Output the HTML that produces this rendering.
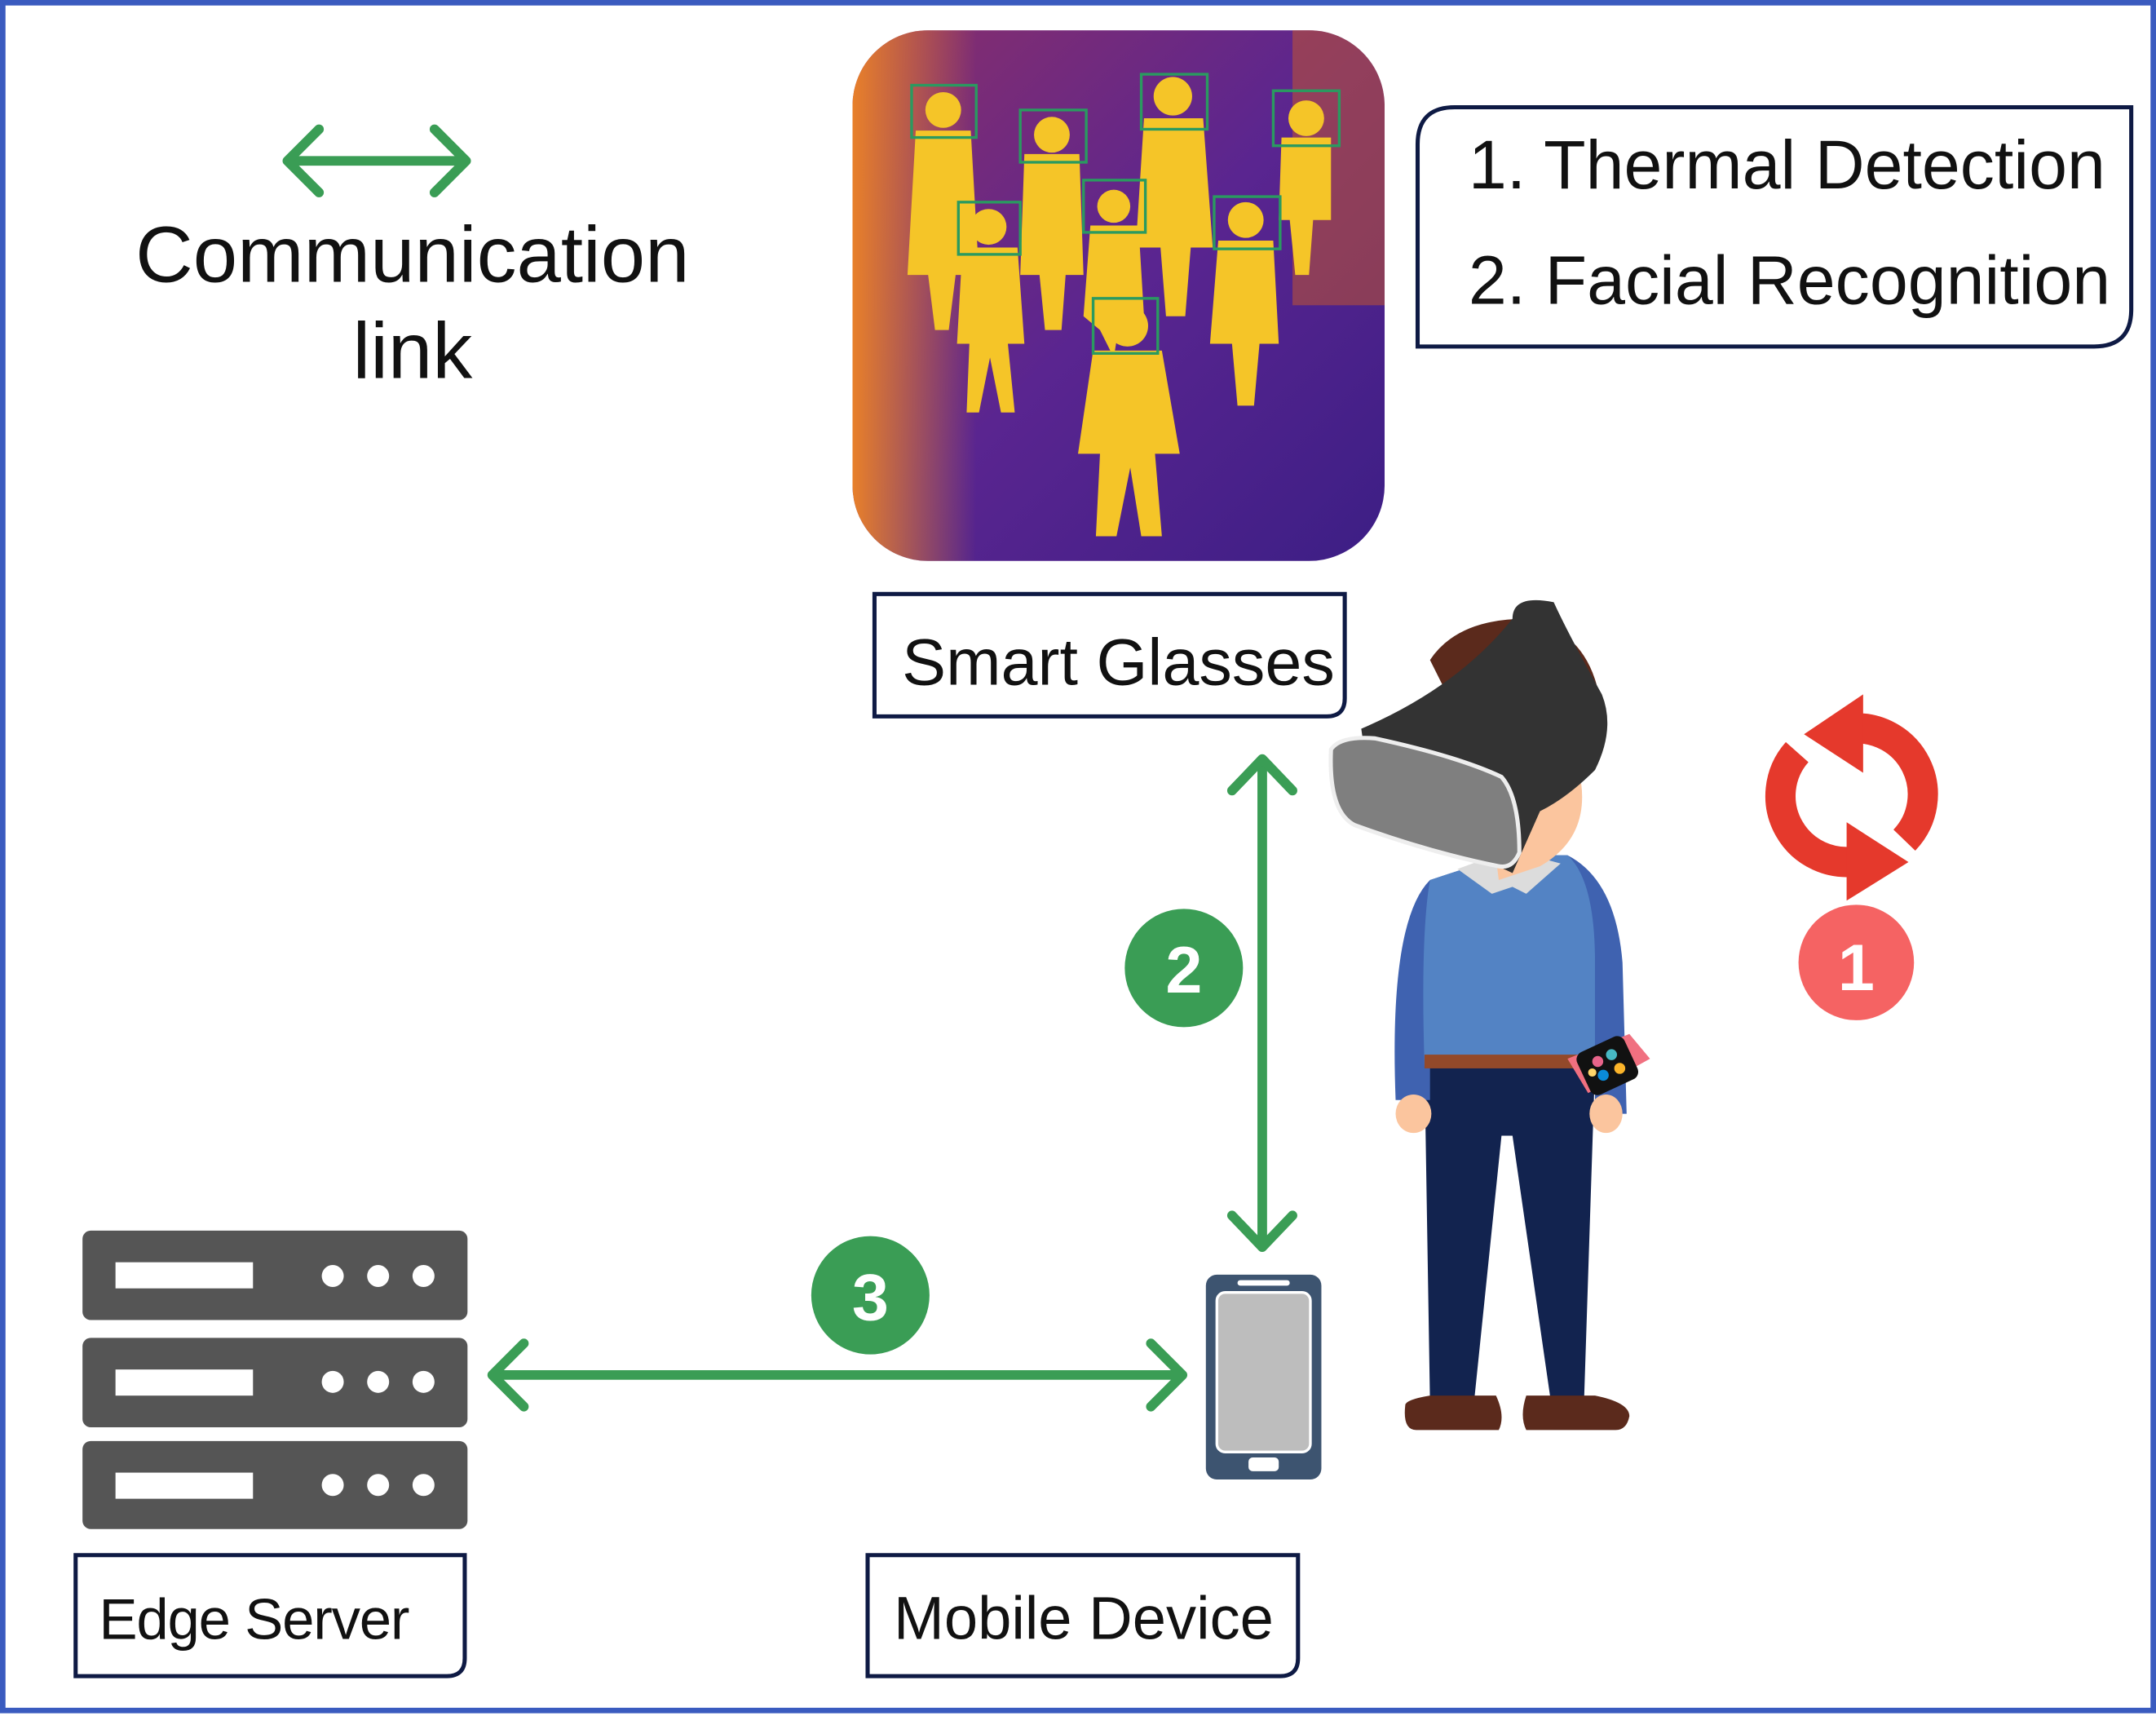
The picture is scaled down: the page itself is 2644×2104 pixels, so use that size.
<!DOCTYPE html>
<html><head><meta charset="utf-8"><style>
html,body{margin:0;padding:0;background:#fff;}
svg{display:block;}
text{font-family:"Liberation Sans","DejaVu Sans",sans-serif;}
</style></head><body>
<svg width="2644" height="2104" viewBox="0 0 1568 1248" preserveAspectRatio="none" xmlns="http://www.w3.org/2000/svg">
<defs>
<linearGradient id="th" x1="0" y1="0" x2="1" y2="1">
<stop offset="0" stop-color="#8a2f6a"/><stop offset="0.5" stop-color="#5a2590"/><stop offset="1" stop-color="#3c1e85"/>
</linearGradient>
<linearGradient id="lf" x1="0" y1="0" x2="1" y2="0">
<stop offset="0" stop-color="#e8802a"/><stop offset="1" stop-color="#e8802a" stop-opacity="0"/>
</linearGradient>
<clipPath id="cp"><rect x="620" y="22" width="387" height="386" rx="55"/></clipPath>
</defs>
<rect x="2" y="2" width="1564" height="1242" fill="#fff" stroke="#3a5bbf" stroke-width="4"/>

<g stroke="#3a9d55" stroke-width="7" fill="none" stroke-linecap="round" stroke-linejoin="round">
<line x1="210" y1="117" x2="338" y2="117"/>
<polyline points="232,94 209,117 232,140"/>
<polyline points="316,94 339,117 316,140"/>
</g>
<text x="300" y="205" font-size="58" text-anchor="middle" fill="#111">Communication</text>
<text x="300" y="275" font-size="58" text-anchor="middle" fill="#111">link</text>

<g clip-path="url(#cp)">
<rect x="620" y="22" width="387" height="386" fill="url(#th)"/>
<rect x="620" y="22" width="90" height="386" fill="url(#lf)"/>
<rect x="940" y="22" width="67" height="200" fill="#d8601c" opacity="0.45"/>
<g fill="#f5c528">
<circle cx="686" cy="80" r="13"/><path d="M666,95 H706 L712,200 L695,200 L690,240 L680,240 L675,200 L660,200 Z"/>
<circle cx="765" cy="98" r="13"/><path d="M745,112 H785 L788,200 L775,200 L772,240 L760,240 L756,200 L742,200 Z"/>
<circle cx="853" cy="70" r="14"/><path d="M832,86 H875 L882,180 L866,180 L862,230 L848,230 L844,180 L826,180 Z"/>
<circle cx="950" cy="86" r="13"/><path d="M932,100 H968 L968,160 L955,160 L952,200 L942,200 L938,160 L930,160 Z"/>
<circle cx="719" cy="165" r="13"/><path d="M700,180 H740 L745,250 L733,250 L738,300 L728,300 L720,260 L712,300 L703,300 L705,250 L696,250 Z"/>
<circle cx="810" cy="150" r="12"/><path d="M793,164 H828 L832,230 L815,230 L810,260 L800,240 L788,230 Z"/>
<circle cx="906" cy="160" r="13"/><path d="M886,175 H926 L930,250 L916,250 L912,295 L900,295 L896,250 L880,250 Z"/>
<circle cx="820" cy="237" r="15"/><path d="M795,255 H845 L858,330 L840,330 L845,390 L830,390 L822,340 L812,390 L797,390 L800,330 L784,330 Z"/>
</g>
<g fill="none" stroke="#2a9a60" stroke-width="2">
<rect x="663" y="62" width="47" height="38"/><rect x="742" y="80" width="48" height="38"/>
<rect x="830" y="54" width="48" height="40"/><rect x="926" y="66" width="48" height="40"/>
<rect x="697" y="147" width="45" height="38"/><rect x="788" y="131" width="45" height="38"/>
<rect x="883" y="143" width="48" height="38"/><rect x="795" y="217" width="47" height="40"/>
</g>
</g>

<path d="M1058,78 H1550 V225 Q1550,252 1523,252 H1031 V105 Q1031,78 1058,78 Z" fill="#fff" stroke="#0e1a44" stroke-width="3"/>
<text x="1068" y="137" font-size="50" fill="#111">1. Thermal Detection</text>
<text x="1068" y="221" font-size="50" fill="#111">2. Facial Recognition</text>

<path d="M636,432 H978 V508 Q978,521 965,521 H636 Z" fill="#fff" stroke="#0e1a44" stroke-width="3"/>
<text x="656" y="498" font-size="48" fill="#111">Smart Glasses</text>

<g stroke="#3a9d55" stroke-width="7" fill="none" stroke-linecap="round" stroke-linejoin="round">
<line x1="918" y1="553" x2="918" y2="905"/>
<polyline points="896,575 918,552 940,575"/>
<polyline points="896,884 918,907 940,884"/>
<line x1="359" y1="1000" x2="859" y2="1000"/>
<polyline points="381,977 358,1000 381,1023"/>
<polyline points="837,977 860,1000 837,1023"/>
</g>
<circle cx="861" cy="704" r="43" fill="#3a9d55"/>
<text x="861" y="722" font-size="48" font-weight="bold" fill="#fff" text-anchor="middle">2</text>
<circle cx="633" cy="942" r="43" fill="#3a9d55"/>
<text x="633" y="960" font-size="48" font-weight="bold" fill="#fff" text-anchor="middle">3</text>

<g fill="#555">
<rect x="60" y="895" width="280" height="65" rx="6"/>
<rect x="60" y="973" width="280" height="65" rx="6"/>
<rect x="60" y="1048" width="280" height="64" rx="6"/>
</g>
<g fill="#fff">
<rect x="84" y="918" width="100" height="19"/><circle cx="242" cy="928" r="8"/><circle cx="275" cy="928" r="8"/><circle cx="308" cy="928" r="8"/>
<rect x="84" y="996" width="100" height="19"/><circle cx="242" cy="1005" r="8"/><circle cx="275" cy="1005" r="8"/><circle cx="308" cy="1005" r="8"/>
<rect x="84" y="1071" width="100" height="19"/><circle cx="242" cy="1080" r="8"/><circle cx="275" cy="1080" r="8"/><circle cx="308" cy="1080" r="8"/>
</g>
<path d="M55,1131 H338 V1206 Q338,1219 325,1219 H55 Z" fill="#fff" stroke="#0e1a44" stroke-width="3"/>
<text x="72" y="1192" font-size="42" fill="#111" textLength="226">Edge Server</text>

<rect x="877" y="927" width="84" height="149" rx="8" fill="#3d5470"/>
<rect x="885" y="940" width="68" height="116" rx="6" fill="#bdbdbd" stroke="#fff" stroke-width="2"/>
<rect x="900" y="931" width="38" height="4" rx="2" fill="#fff"/>
<rect x="908" y="1060" width="22" height="10" rx="3" fill="#fff"/>
<path d="M631,1131 H944 V1206 Q944,1219 931,1219 H631 Z" fill="#fff" stroke="#0e1a44" stroke-width="3"/>
<text x="650" y="1192" font-size="44" fill="#111">Mobile Device</text>

<g>
<path d="M1040,1020 L1036,775 L1160,775 L1152,1020 L1128,1020 L1100,826 L1092,826 L1072,1020 Z" fill="#12234f"/>
<path d="M1022,1022 Q1020,1040 1030,1040 L1090,1040 Q1095,1030 1088,1015 L1040,1015 Q1022,1018 1022,1022 Z" fill="#5b2a1c"/>
<path d="M1110,1015 L1160,1015 Q1185,1020 1185,1030 Q1183,1040 1175,1040 L1110,1040 Q1105,1030 1110,1015 Z" fill="#5b2a1c"/>
<path d="M1015,800 Q1010,670 1040,640 L1095,622 L1140,622 Q1175,640 1180,700 L1183,810 L1160,810 L1160,770 L1040,770 L1040,800 Z" fill="#3f62b0"/>
<path d="M1040,640 L1095,622 L1140,622 Q1160,640 1160,700 L1160,775 L1036,775 Q1033,680 1040,640 Z" fill="#5383c4"/>
<rect x="1036" y="767" width="124" height="10" fill="#93492a"/>
<ellipse cx="1028" cy="810" rx="13" ry="14" fill="#fbc59e"/>
<ellipse cx="1168" cy="810" rx="12" ry="14" fill="#fbc59e"/>
<path d="M1060,632 L1098,618 L1135,628 L1110,650 L1100,645 L1085,650 Z" fill="#dcdcdc"/>
<path d="M1080,560 Q1130,540 1150,570 Q1155,610 1120,630 L1090,640 Z" fill="#fbc59e"/>
<path d="M1040,480 Q1060,450 1110,450 Q1160,460 1165,520 L1120,515 L1060,520 Z" fill="#5b2a1c"/>
<path d="M990,530 Q1060,500 1100,450 Q1100,432 1130,438 Q1140,460 1165,505 Q1175,530 1160,560 Q1140,580 1120,590 L1100,635 Q1070,620 1000,600 Z" fill="#333"/>
<path d="M968,545 Q975,535 1000,537 Q1060,550 1092,565 Q1105,580 1105,620 Q1100,632 1090,630 Q1040,620 985,600 Q966,590 968,545 Z" fill="#7f7f7f" stroke="#eee" stroke-width="3"/>
<path d="M1140,770 L1185,752 L1200,770 L1155,795 Z" fill="#f07080"/>
<rect x="1150" y="758" width="38" height="34" rx="6" fill="#111" transform="rotate(-25 1169 775)"/>
<g><circle cx="1162" cy="772" r="4" fill="#e8648a"/><circle cx="1172" cy="767" r="4" fill="#47b8c4"/><circle cx="1178" cy="777" r="4" fill="#fbb42a"/><circle cx="1166" cy="782" r="4" fill="#0a8ad8"/><circle cx="1158" cy="780" r="3" fill="#ffd56a"/></g>
</g>

<!-- refresh icon -->
<g fill="none" stroke="#e5392c" stroke-width="22">
<path d="M1345,530 A48,48 0 0 1 1385,611"/>
<path d="M1352,626 A48,48 0 0 1 1307,547"/>
</g>
<path d="M1355,505 L1355,562 L1312,534 Z" fill="#e5392c"/>
<path d="M1343,598 L1343,655 L1388,627 Z" fill="#e5392c"/>
<circle cx="1350" cy="700" r="42" fill="#f56363"/>
<text x="1350" y="720" font-size="48" font-weight="bold" fill="#fff" text-anchor="middle">1</text>
</svg>
</body></html>
